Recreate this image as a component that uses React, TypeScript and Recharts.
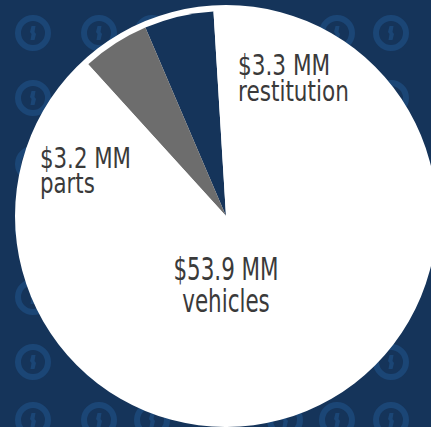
import { PieChart, Pie, Cell } from 'recharts'

const categories = ['restitution', 'parts', 'vehicles']
const values = [3.3, 3.2, 53.9]
const sliceColors = ['#15345a', '#6d6d6d', '#ffffff']

// label placement relative to the pie centre, per slice
const labelOffsets = [
  { dx: 12, dy: -141, anchor: 'start', size: 27, gap: 26, sx: 0.8, sy: 1.07 },
  { dx: -186, dy: -48, anchor: 'start', size: 27, gap: 25, sx: 0.79, sy: 1.07 },
  { dx: 0, dy: 64, anchor: 'middle', size: 29, gap: 32, sx: 0.74, sy: 1.08 },
]

const patternCols = [33, 99, 152, 285, 337, 391]
const patternRows = [33, 98, 164, 230, 297, 362, 420]

const BG = '#15345a'
const RING = '#1b4676'
const FONT = '"DejaVu Sans", sans-serif'

const chartData = categories.map((name, i) => ({ name, value: values[i], color: sliceColors[i] }))
const total = values.reduce((a, b) => a + b, 0)
const discData = [{ name: 'total', value: total }]

function renderLabel(props: any) {
  const { cx, cy, index, name, value } = props
  const o = labelOffsets[index]
  const x = cx + o.dx
  const y = cy + o.dy
  const common = {
    textAnchor: o.anchor,
    fill: '#3a3a3a',
    fontFamily: FONT,
    fontSize: o.size,
  }
  return (
    <g transform={`translate(${x},${y}) scale(${o.sx},${o.sy})`}>
      <text x={0} y={0} {...common}>{`$${value} MM`}</text>
      <text x={0} y={o.gap / o.sy} {...common}>{name}</text>
    </g>
  )
}

function Pattern() {
  return (
    <svg width={431} height={427} style={{ position: 'absolute', left: 0, top: 0 }}>
      <rect width={431} height={427} fill={BG} />
      {patternRows.map((y) =>
        patternCols.map((x) => (
          <g key={`${x}-${y}`}>
            <circle cx={x} cy={y} r={15} fill="none" stroke={RING} strokeWidth={6} />
            <path
              d={`M${x - 1.5} ${y - 7} L${x + 2.5} ${y - 7} L${x + 1.5} ${y - 1} L${x + 3} ${y + 1} L${x + 1.5} ${y + 7} L${x - 2.5} ${y + 7} L${x - 1.5} ${y + 1} L${x - 3} ${y - 1} Z`}
              fill={RING}
            />
          </g>
        ))
      )}
    </svg>
  )
}

export default function App() {
  return (
    <div style={{ position: 'absolute', left: 0, top: 0, width: 431, height: 427, overflow: 'hidden' }}>
      <Pattern />
      <div style={{ position: 'absolute', left: 0, top: 0 }}>
        <PieChart width={431} height={427} margin={{ top: 0, right: 0, bottom: 0, left: 0 }}>
          <Pie
            data={discData}
            dataKey="value"
            cx={226}
            cy={216}
            outerRadius={211}
            fill="#ffffff"
            stroke="none"
            isAnimationActive={false}
          />
          <Pie
            data={chartData}
            dataKey="value"
            nameKey="name"
            cx={226}
            cy={216}
            outerRadius={205}
            startAngle={93.5}
            endAngle={453.5}
            stroke="none"
            label={renderLabel}
            labelLine={false}
            isAnimationActive={false}
          >
            {chartData.map((entry, index) => (
              <Cell key={index} fill={entry.color} />
            ))}
          </Pie>
        </PieChart>
      </div>
    </div>
  )
}
